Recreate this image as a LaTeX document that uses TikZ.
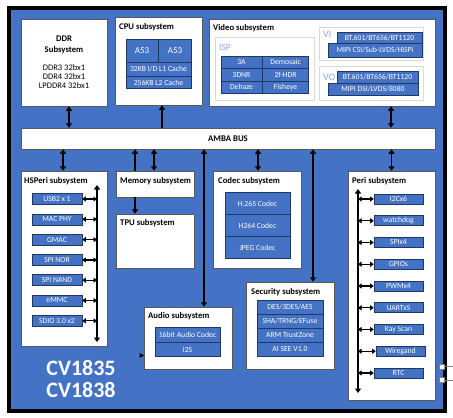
\documentclass[tikz,border=0pt]{standalone}
\usepackage{fontspec}
\setmainfont{Carlito}
\usetikzlibrary{shapes.geometric, arrows.meta, positioning}

\definecolor{chipblue}{HTML}{4472C4}
\definecolor{cellline}{HTML}{203864}
\definecolor{isplabel}{HTML}{8FAADC}

\begin{document}
\begin{tikzpicture}[x=1pt,y=-1pt]
    \tikzstyle{sub} = [rectangle, draw=black!65, line width=0.5pt, fill=white, inner sep=0pt]
\tikzstyle{frame} = [rectangle, draw=black!15, line width=0.8pt, fill=white, inner sep=0pt]
\tikzstyle{title} = [anchor=west, inner sep=0pt, font=\bfseries\fontsize{8.7}{9}\selectfont]
\tikzstyle{tag} = [anchor=west, inner sep=0pt, text=isplabel, font=\fontsize{9.5}{10}\selectfont]
\tikzstyle{cell} = [rectangle, draw=cellline, line width=0.6pt, fill=chipblue, text=white, inner sep=0pt, font=\fontsize{7.7}{8}\selectfont]
\tikzstyle{arrow} = [line width=1.8pt, -{Triangle[length=4.5pt,width=6pt]}]
\tikzstyle{dbl} = [line width=1.8pt, {Triangle[length=4.5pt,width=6pt]}-{Triangle[length=4.5pt,width=6pt]}]
\tikzstyle{tap} = [line width=1.3pt, {Triangle[length=3.5pt,width=5pt]}-{Triangle[length=3.5pt,width=5pt]}]
    \useasboundingbox (0,0) rectangle (453,418);

% chip
\node (chip) [rectangle, draw=black, line width=3.5pt, fill=chipblue, minimum width=436pt, minimum height=403pt] at (227,209.5) {};
\node (chipname) [align=center, text=white, inner sep=0pt, font=\bfseries\fontsize{22}{22}\selectfont] at (81,379) {CV1835\\CV1838};

% DDR
\node (ddr) [sub, minimum width=86pt, minimum height=87pt] at (64,62.5) {};
\node (ddrname) [align=center, inner sep=0pt, font=\bfseries\fontsize{8.7}{11}\selectfont] at (64,45) {DDR\\Subsystem};
\node (ddrlist) [align=center, inner sep=0pt, font=\fontsize{8.5}{9}\selectfont] at (64,77) {DDR3 32bx1\\DDR4 32bx1\\LPDDR4 32bx1};

% CPU
\node (cpu) [sub, minimum width=87pt, minimum height=88pt] at (158.5,61) {};
\node (cputitle) [title] at (119,27) {CPU subsystem};
\node (a53a) [cell, minimum width=32pt, minimum height=23pt, font=\fontsize{9}{9}\selectfont] at (142,50.5) {A53};
\node (a53b) [cell, minimum width=33pt, minimum height=23pt, font=\fontsize{9}{9}\selectfont, right=0pt of a53a] {A53};
\node (l1) [cell, minimum width=65pt, minimum height=14pt] at (158.5,69) {32KB I/D L1 Cache};
\node (l2) [cell, minimum width=65pt, minimum height=12pt, below=0pt of l1] {256KB L2 Cache};

% Video
\node (video) [sub, minimum width=226pt, minimum height=87pt] at (322,62.5) {};
\node (videotitle) [title] at (213,28) {Video subsystem};
\node (isp) [frame, minimum width=99pt, minimum height=63pt] at (264.5,68.5) {};
\node (isplbl) [tag] at (219,47) {ISP};
\foreach \l/\r [count=\i] in {3A/Demosaic, 3DNR/2f-HDR, Dehaze/Fisheye} {
  \node (ispl\i) [cell, minimum width=41pt, minimum height=12.4pt] at (241.5,{49.8+12.4*\i}) {\l};
  \node (ispr\i) [cell, minimum width=46pt, minimum height=12.4pt, right=0pt of ispl\i] {\r};
}
\node (vi) [frame, minimum width=104pt, minimum height=33pt] at (371,43.5) {};
\node (vilbl) [tag, font=\fontsize{10}{10}\selectfont] at (323,34.5) {VI};
\node (vi1) [cell, minimum width=85pt, minimum height=11pt] at (379.5,37.5) {BT.601/BT656/BT1120};
\node (vi2) [cell, minimum width=94pt, minimum height=14pt] at (375,50) {MIPI CSI/Sub-LVDS/HiSPi};
\node (vo) [frame, minimum width=104pt, minimum height=34pt] at (371,83) {};
\node (volbl) [tag, font=\fontsize{10}{10}\selectfont] at (323,77.5) {VO};
\node (vo1) [cell, minimum width=81pt, minimum height=12pt] at (377.5,77) {BT.601/BT656/BT1120};
\node (vo2) [cell, minimum width=90pt, minimum height=12pt] at (373,89) {MIPI DSI/LVDS/8080};

% AMBA bus
\node (bus) [sub, minimum width=414pt, minimum height=21pt, font=\bfseries\fontsize{8.7}{9}\selectfont] at (228,138.5) {AMBA BUS};

% HSPeri
\node (hsperi) [sub, minimum width=86pt, minimum height=175pt] at (64,258.5) {};
\node (hsperititle) [title] at (24,181.5) {HSPeri subsystem};
\coordinate (hstop) at (97,185);
\coordinate (hsbot) at (97,342);
\draw[dbl] (hstop) -- (hsbot);
\foreach \t [count=\i] in {USB2 x 1, MAC PHY, GMAC, SPI NOR, SPI NAND, eMMC, SDIO 3.0 x2} {
  \node (hs\i) [cell, minimum width=50pt, minimum height=11pt] at (57,{178.7+20.3*\i}) {\t};
  \draw[tap] (hs\i.east -| hstop) -- (hs\i.east);
}

% Memory, TPU
\node (mem) [sub, minimum width=78pt, minimum height=26pt] at (155,184) {};
\node (memtitle) [title] at (120,181) {Memory subsystem};
\node (tpu) [sub, minimum width=78pt, minimum height=54pt] at (155,241) {};
\node (tputitle) [title] at (120,223.5) {TPU subsystem};

% Codec
\node (codec) [sub, minimum width=88pt, minimum height=97pt] at (257,219.5) {};
\node (codectitle) [title] at (218,181) {Codec subsystem};
\foreach \t [count=\i] in {H.265 Codec, H264 Codec, JPEG Codec}
  \node (codec\i) [cell, minimum width=65pt, minimum height=22pt] at (257.5,{181.5+22*\i}) {\t};

% Audio
\node (audio) [sub, minimum width=88pt, minimum height=62pt] at (188,338) {};
\node (audiotitle) [title] at (148,316) {Audio subsystem};
\node (aud1) [cell, minimum width=65pt, minimum height=15pt] at (187.5,334.5) {16bit Audio Codec};
\node (aud2) [cell, minimum width=65pt, minimum height=14pt, below=0pt of aud1] {I2S};
\fill (139.5,353) -- (144,355.5) -- (139.5,358) -- cycle;

% Security
\node (sec) [sub, minimum width=88pt, minimum height=87pt] at (290,325.5) {};
\node (sectitle) [title] at (251,292) {Security subsystem};
\foreach \t [count=\i] in {DES/3DES/AES, SHA/TRNG/EFuse, ARM TrustZone, AI SEE V1.0}
  \node (sec\i) [cell, minimum width=66pt, minimum height=14pt] at (290,{293+14*\i}) {\t};

% Peri
\node (peri) [sub, minimum width=87pt, minimum height=229pt] at (391.5,285.5) {};
\node (perititle) [title] at (352,181.5) {Peri subsystem};
\coordinate (petop) at (358,189);
\coordinate (pebot) at (358,393);
\draw[dbl] (petop) -- (pebot);
\foreach \t/\dx [count=\i] in {I2Cx6/0, watchdog/0, SPIx4/0, GPIOs/0, PWMx4/0, UARTx5/0, Kay Scan/0, Wiregand/2, RTC/0} {
  \node (pe\i) [cell, minimum width=49pt, minimum height=10pt] at ({398.5+\dx},{177.25+21.75*\i}) {\t};
  \draw[tap] (pe\i.west -| petop) -- (pe\i.west);
}

% pins
\node (pin1) [rectangle, draw=black!50, fill=white, line width=0.5pt, minimum size=5pt, inner sep=0pt] at (442,366.5) {};
\node (pin2) [rectangle, draw=black!50, fill=white, line width=0.5pt, minimum size=5pt, inner sep=0pt] at (442,379.8) {};
\coordinate (pin1end) at (453,366.5);
\coordinate (pin2end) at (453,379.8);
\draw[black!50, line width=0.6pt] (pin1) -- (pin1end);
\draw[black!50, line width=0.6pt] (pin2) -- (pin2end);

% bus links
\draw[dbl] ([xshift=5pt]ddr.south) -- ([xshift=5pt]ddr.south |- bus.north);
\draw[arrow] ([xshift=3.5pt]cpu.south |- bus.north) -- ([xshift=3.5pt]cpu.south);
\draw[dbl] ([xshift=69pt]video.south) -- ([xshift=69pt]video.south |- bus.north);
\draw[dbl] ([xshift=-1pt]hsperi.north |- bus.south) -- ([xshift=-1pt]hsperi.north);
\draw[arrow] ([xshift=-20pt]mem.north) -- ([xshift=-20pt]mem.north |- bus.south);
\draw[dbl] ([xshift=-1pt]mem.north) -- ([xshift=-1pt]mem.north |- bus.south);
\draw[arrow] ([xshift=-20pt]mem.south) -- ([xshift=-20pt]tpu.north);
\draw[dbl] ([xshift=16pt]audio.north |- bus.south) -- ([xshift=16pt]audio.north);
\draw[dbl] ([xshift=1pt]codec.north |- bus.south) -- ([xshift=1pt]codec.north);
\draw[dbl] ([xshift=23pt]sec.north |- bus.south) -- ([xshift=23pt]sec.north);
\draw[dbl] (peri.north |- bus.south) -- (peri.north);
  \end{tikzpicture}
\end{document}
